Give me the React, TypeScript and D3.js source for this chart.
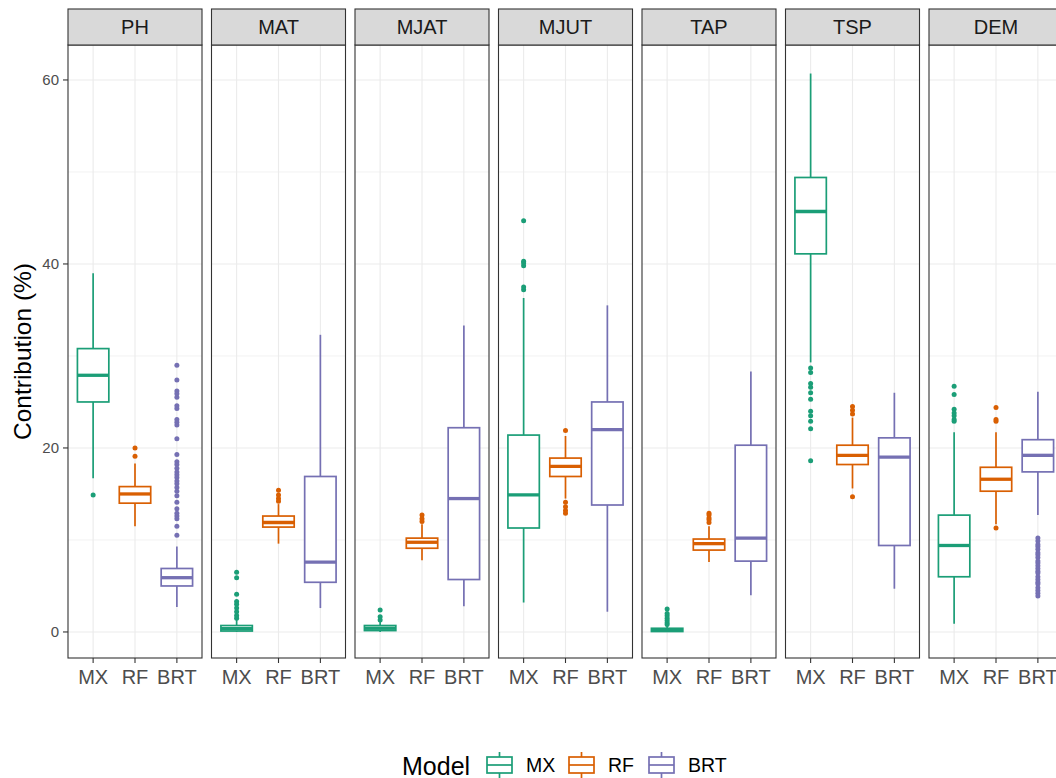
import React from 'react';
import * as d3 from 'd3';

// facet variables and models
const variables = ['PH', 'MAT', 'MJAT', 'MJUT', 'TAP', 'TSP', 'DEM'];
const models = ['MX', 'RF', 'BRT'];
const modelColors = ['#1B9E77', '#D95F02', '#7570B3'];

// box stats per variable: [lower whisker, q1, median, q3, upper whisker]
const mxStats = [
  [16.7, 25.0, 27.9, 30.8, 39.0],
  [0.0, 0.1, 0.35, 0.7, 1.4],
  [0.0, 0.15, 0.4, 0.7, 1.1],
  [3.2, 11.3, 14.9, 21.4, 36.3],
  [0.0, 0.05, 0.2, 0.4, 0.7],
  [29.3, 41.1, 45.7, 49.4, 60.7],
  [0.9, 6.0, 9.4, 12.7, 21.7],
];
const rfStats = [
  [11.5, 14.0, 15.0, 15.8, 18.3],
  [9.6, 11.4, 11.9, 12.6, 13.9],
  [7.8, 9.1, 9.75, 10.2, 11.7],
  [14.5, 16.9, 18.0, 18.9, 21.3],
  [7.6, 8.9, 9.6, 10.1, 11.5],
  [15.6, 18.2, 19.2, 20.3, 23.3],
  [11.7, 15.3, 16.6, 17.9, 21.7],
];
const brtStats = [
  [2.7, 5.0, 5.9, 6.9, 9.3],
  [2.6, 5.4, 7.6, 16.9, 32.3],
  [2.8, 5.7, 14.5, 22.2, 33.3],
  [2.2, 13.8, 22.0, 25.0, 35.5],
  [4.0, 7.7, 10.2, 20.3, 28.3],
  [4.7, 9.4, 19.0, 21.1, 26.0],
  [12.7, 17.4, 19.2, 20.9, 26.1],
];

// outliers per variable
const mxOutliers = [
  [14.9],
  [6.5, 5.9, 4.1, 3.3, 3.0, 2.6, 2.2, 1.8, 1.5],
  [2.4, 1.65, 1.3],
  [37.2, 37.5, 39.8, 40.1, 40.3, 44.7],
  [2.5, 2.0, 1.75, 1.5, 1.25, 1.0, 0.8],
  [28.7, 28.2, 27.0, 26.6, 26.0, 25.3, 24.0, 23.5, 22.9, 22.1, 18.6],
  [26.7, 25.8, 24.2, 23.8, 23.5, 23.1, 22.9],
];
const rfOutliers = [
  [20.0, 19.1],
  [15.4, 14.9, 14.5, 14.2],
  [12.7, 12.3, 12.0],
  [21.9, 14.1, 13.6, 13.2, 12.9],
  [12.9, 12.7, 12.4, 12.2, 11.9],
  [24.5, 24.1, 23.7, 14.7],
  [24.4, 23.1, 22.9, 11.3],
];
const brtOutliers = [
  [29.0, 27.4, 26.2, 25.9, 25.5, 24.6, 24.3, 23.1, 22.8, 22.5, 21.0, 19.3, 18.5, 18.2, 17.8,
    17.4, 17.1, 16.8, 16.4, 16.1, 15.7, 15.3, 14.8, 14.1, 13.4, 12.9, 12.6, 12.3, 11.5, 10.5],
  [],
  [],
  [],
  [],
  [],
  [10.2, 9.9, 9.5, 9.3, 9.0, 8.6, 8.4, 8.1, 7.7, 7.5, 7.2, 6.9, 6.6, 6.4, 6.0, 5.7, 5.4, 5.2,
    4.8, 4.5, 4.2, 3.9],
];

const yTicks = [0, 20, 40, 60];
const yMinor = [10, 30, 50];

const statsByModel = [mxStats, rfStats, brtStats];
const outliersByModel = [mxOutliers, rfOutliers, brtOutliers];

const FONT = '"Liberation Sans", Arial, Helvetica, sans-serif';

const App = () => {
  const width = 1056, height = 778;
  const panelTop = 45, panelBottom = 658, stripTop = 9;
  const panelLeft = 68, panelWidth = 134, panelGap = 9.5;

  const y = d3.scaleLinear().domain([-2.83, 63.8]).range([panelBottom, panelTop]);
  const x = d3.scalePoint().domain(models).range([0, panelWidth]).padding(0.6);
  const boxW = x.step() * 0.75;

  return (
    <svg width={width} height={height} style={{ position: 'absolute', left: 0, top: 0, fontFamily: FONT }}>
      <rect width={width} height={height} fill="#fff" />
      {variables.map((v, vi) => {
        const px = panelLeft + vi * (panelWidth + panelGap);
        return (
          <g key={v} transform={`translate(${px},0)`}>
            {/* grid */}
            {yMinor.map(t => (
              <line key={'mn' + t} x1={0} x2={panelWidth} y1={y(t)} y2={y(t)} stroke="#EBEBEB" strokeWidth={0.6} />
            ))}
            {yTicks.map(t => (
              <line key={'mj' + t} x1={0} x2={panelWidth} y1={y(t)} y2={y(t)} stroke="#EBEBEB" strokeWidth={1.1} />
            ))}
            {models.map(m => (
              <line key={'vg' + m} x1={x(m)} x2={x(m)} y1={panelTop} y2={panelBottom} stroke="#EBEBEB" strokeWidth={1.1} />
            ))}
            {/* boxes */}
            {models.map((m, mi) => {
              const [lo, q1, med, q3, hi] = statsByModel[mi][vi];
              const cx = x(m)!;
              const col = modelColors[mi];
              return (
                <g key={m}>
                  <line x1={cx} x2={cx} y1={y(q3)} y2={y(hi)} stroke={col} strokeWidth={1.7} />
                  <line x1={cx} x2={cx} y1={y(q1)} y2={y(lo)} stroke={col} strokeWidth={1.7} />
                  <rect x={cx - boxW / 2} width={boxW} y={y(q3)} height={Math.max(0.01, y(q1) - y(q3))}
                    fill="#fff" stroke={col} strokeWidth={1.7} />
                  <line x1={cx - boxW / 2} x2={cx + boxW / 2} y1={y(med)} y2={y(med)} stroke={col} strokeWidth={3.3} />
                  {outliersByModel[mi][vi].map((o, oi) => (
                    <circle key={oi} cx={cx} cy={y(o)} r={2.5} fill={col} />
                  ))}
                </g>
              );
            })}
            {/* panel border */}
            <rect x={0} y={panelTop} width={panelWidth} height={panelBottom - panelTop} fill="none" stroke="#333" strokeWidth={1.1} />
            {/* strip */}
            <rect x={0} y={stripTop} width={panelWidth} height={panelTop - stripTop} fill="#D9D9D9" stroke="#333" strokeWidth={1.1} />
            <text x={panelWidth / 2} y={(stripTop + panelTop) / 2} dy="0.36em" textAnchor="middle" fontSize={20} fill="#1A1A1A">{v}</text>
            {/* x axis */}
            {models.map(m => (
              <g key={'xt' + m}>
                <line x1={x(m)} x2={x(m)} y1={panelBottom} y2={panelBottom + 5} stroke="#333" strokeWidth={1.1} />
                <text x={x(m)} y={panelBottom + 26} textAnchor="middle" fontSize={20} fill="#4D4D4D">{m}</text>
              </g>
            ))}
          </g>
        );
      })}
      {/* y axis */}
      {yTicks.map(t => (
        <g key={'yt' + t}>
          <line x1={panelLeft - 5} x2={panelLeft} y1={y(t)} y2={y(t)} stroke="#333" strokeWidth={1.1} />
          <text x={panelLeft - 9} y={y(t)} dy="0.36em" textAnchor="end" fontSize={15} fill="#4D4D4D">{t}</text>
        </g>
      ))}
      <text transform={`translate(31,${(panelTop + panelBottom) / 2}) rotate(-90)`} textAnchor="middle" fontSize={24.5} fill="#000">
        Contribution (%)
      </text>
      {/* legend */}
      <text x={402} y={775} fontSize={25} fill="#000">Model</text>
      {models.map((m, mi) => {
        const kx = [487, 569, 649][mi];
        const col = modelColors[mi];
        const kc = kx + 12.5;
        return (
          <g key={'lg' + m}>
            <line x1={kc} x2={kc} y1={752} y2={778} stroke={col} strokeWidth={1.7} />
            <rect x={kx} y={757} width={25} height={16} fill="#fff" stroke={col} strokeWidth={1.7} />
            <line x1={kx} x2={kx + 25} y1={765} y2={765} stroke={col} strokeWidth={1.7} />
            <text x={kx + 39} y={772} fontSize={19.5} fill="#000">{m}</text>
          </g>
        );
      })}
    </svg>
  );
};

export default App;
